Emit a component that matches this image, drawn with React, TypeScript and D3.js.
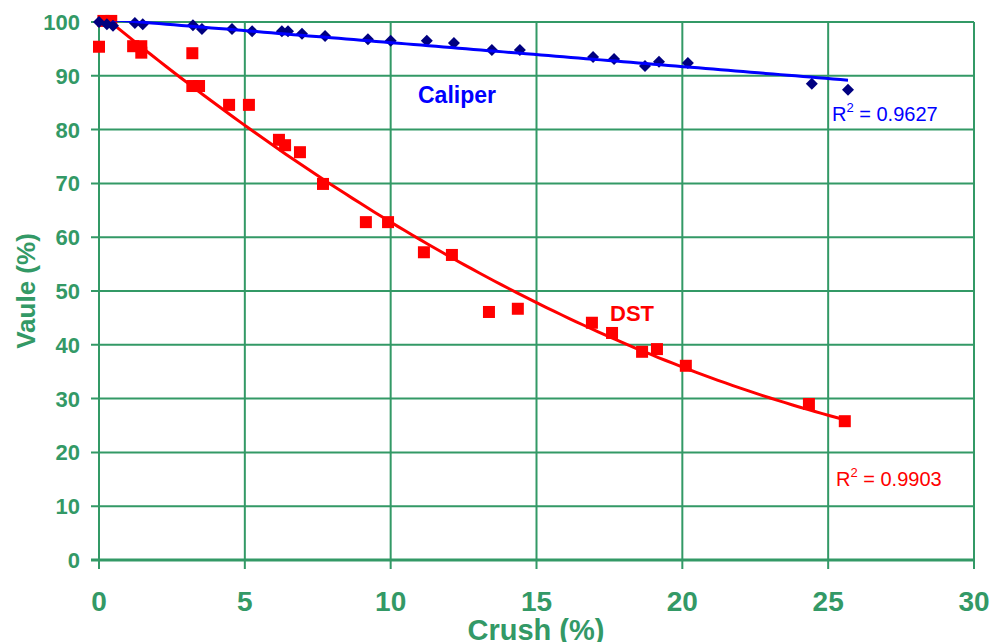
import React, { useEffect, useRef } from 'react';
import * as d3 from 'd3';

// Caliper series (crush %, value %)
const caliperCrush = [0, 0.27, 0.48, 1.23, 1.5, 3.22, 3.53, 4.56, 5.25, 6.27, 6.48, 6.96, 7.75, 9.22, 10.0, 11.24, 12.17, 13.47, 14.43, 16.94, 17.66, 18.72, 19.2, 20.19, 24.44, 25.68];
const caliperValue = [100, 99.6, 99.3, 99.8, 99.6, 99.4, 98.7, 98.7, 98.3, 98.3, 98.3, 97.8, 97.4, 96.8, 96.5, 96.5, 96.1, 94.8, 94.8, 93.5, 93.1, 91.8, 92.6, 92.4, 88.5, 87.4];

// DST series
const dstCrush = [0, 0.15, 0.42, 1.17, 1.45, 1.45, 3.2, 3.2, 3.43, 4.46, 5.14, 6.17, 6.38, 6.89, 7.68, 9.15, 9.91, 11.14, 12.1, 13.37, 14.36, 16.9, 17.59, 18.62, 19.13, 20.12, 24.34, 25.57];
const dstValue = [95.4, 100.2, 100.2, 95.5, 95.5, 94.3, 94.2, 88.1, 88.1, 84.6, 84.6, 78.1, 77.1, 75.8, 69.9, 62.8, 62.8, 57.2, 56.7, 46.1, 46.7, 44.1, 42.2, 38.7, 39.2, 36.1, 29.0, 25.8];

const xTicks = [0, 5, 10, 15, 20, 25, 30];
const yTicks = [0, 10, 20, 30, 40, 50, 60, 70, 80, 90, 100];
const caliperR2 = '0.9627';
const dstR2 = '0.9903';

const green = '#339966';
const sans = '"Liberation Sans", Arial, sans-serif';

// least squares polynomial fit (trend lines)
function polyFit(xs: number[], ys: number[], deg: number): number[] {
  const n = deg + 1;
  const A: number[][] = [];
  for (let i = 0; i < n; i++) {
    A.push([]);
    for (let j = 0; j < n; j++) A[i].push(d3.sum(xs, (x) => Math.pow(x, i + j)));
    A[i].push(d3.sum(xs, (x, k) => Math.pow(x, i) * ys[k]));
  }
  for (let c = 0; c < n; c++) {
    for (let r = c + 1; r < n; r++) {
      const f = A[r][c] / A[c][c];
      for (let k = c; k <= n; k++) A[r][k] -= f * A[c][k];
    }
  }
  const coef = new Array(n).fill(0);
  for (let r = n - 1; r >= 0; r--) {
    let s = A[r][n];
    for (let k = r + 1; k < n; k++) s -= A[r][k] * coef[k];
    coef[r] = s / A[r][r];
  }
  return coef;
}

export default function App() {
  const svgRef = useRef<SVGSVGElement | null>(null);

  useEffect(() => {
    const svg = d3.select(svgRef.current);
    svg.selectAll('*').remove();

    const margin = { top: 22, right: 16, bottom: 82, left: 99 };
    const width = 990;
    const height = 642;

    const x = d3.scaleLinear().domain([0, 30]).range([margin.left, width - margin.right]);
    const y = d3.scaleLinear().domain([0, 100]).range([height - margin.bottom, margin.top]);

    svg.append('rect').attr('width', width).attr('height', height).attr('fill', '#fff');

    // grid + tick marks
    const grid = svg.append('g').attr('stroke', green).attr('stroke-width', 2);
    yTicks.forEach((t) => {
      grid.append('line').attr('x1', x(0) - 8).attr('x2', x(30)).attr('y1', y(t)).attr('y2', y(t))
        .attr('stroke-width', t === 0 ? 3 : 2);
    });
    xTicks.forEach((t) => {
      grid.append('line').attr('x1', x(t)).attr('x2', x(t)).attr('y1', y(100)).attr('y2', y(0) + 9);
    });

    // tick labels
    svg.append('g').selectAll('text').data(yTicks).join('text')
      .attr('x', x(0) - 19).attr('y', (d) => y(d) + 8)
      .attr('text-anchor', 'end').attr('fill', green)
      .attr('font-family', sans).attr('font-weight', 'bold').attr('font-size', 22)
      .text((d) => d);
    svg.append('g').selectAll('text').data(xTicks).join('text')
      .attr('x', (d) => x(d)).attr('y', y(0) + 51)
      .attr('text-anchor', 'middle').attr('fill', green)
      .attr('font-family', sans).attr('font-weight', 'bold').attr('font-size', 28)
      .text((d) => d);

    // axis titles
    svg.append('text').attr('x', 536).attr('y', 640)
      .attr('text-anchor', 'middle').attr('fill', green)
      .attr('font-family', sans).attr('font-weight', 'bold').attr('font-size', 29)
      .text('Crush (%)');
    svg.append('text')
      .attr('transform', `translate(35,${(y(0) + y(100)) / 2}) rotate(-90)`)
      .attr('text-anchor', 'middle').attr('fill', green)
      .attr('font-family', sans).attr('font-weight', 'bold').attr('font-size', 26)
      .text('Vaule (%)');

    // clip for trend lines
    svg.append('clipPath').attr('id', 'plotClip').append('rect')
      .attr('x', x(0)).attr('y', y(100) - 1).attr('width', x(30) - x(0)).attr('height', y(0) - y(100) + 1);

    // trend lines
    const calCoef = polyFit(caliperCrush, caliperValue, 1);
    const dstCoef = polyFit(dstCrush, dstValue, 2);
    const evalPoly = (c: number[], v: number) => c.reduce((s, a, i) => s + a * Math.pow(v, i), 0);
    const line = d3.line<number[]>().x((d) => x(d[0])).y((d) => y(d[1]));

    const calMax = d3.max(caliperCrush) as number;
    const dstMax = d3.max(dstCrush) as number;
    const calPts = d3.range(0, 101).map((i) => [(calMax * i) / 100, evalPoly(calCoef, (calMax * i) / 100)]);
    const dstPts = d3.range(0, 101).map((i) => [(dstMax * i) / 100, evalPoly(dstCoef, (dstMax * i) / 100)]);

    // squares (DST)
    svg.append('g').selectAll('rect').data(dstCrush).join('rect')
      .attr('x', (d) => x(d) - 6).attr('y', (_, i) => y(dstValue[i]) - 6)
      .attr('width', 12).attr('height', 12).attr('fill', '#ff0000');

    svg.append('path').datum(dstPts).attr('clip-path', 'url(#plotClip)')
      .attr('fill', 'none').attr('stroke', '#ff0000').attr('stroke-width', 3).attr('d', line);

    // diamonds (Caliper)
    const diamond = d3.symbol().type(d3.symbolSquare).size(72);
    svg.append('g').selectAll('path').data(caliperCrush).join('path')
      .attr('transform', (d, i) => `translate(${x(d)},${y(caliperValue[i])}) rotate(45)`)
      .attr('d', diamond).attr('fill', '#000080');

    svg.append('path').datum(calPts).attr('clip-path', 'url(#plotClip)')
      .attr('fill', 'none').attr('stroke', '#0000ff').attr('stroke-width', 3).attr('d', line);

    // labels
    svg.append('text').attr('x', 457).attr('y', 103).attr('text-anchor', 'middle')
      .attr('fill', '#0000ff').attr('font-family', sans).attr('font-weight', 'bold').attr('font-size', 23)
      .text('Caliper');
    svg.append('text').attr('x', 632).attr('y', 321).attr('text-anchor', 'middle')
      .attr('fill', '#ff0000').attr('font-family', sans).attr('font-weight', 'bold').attr('font-size', 22)
      .text('DST');

    const r2 = (tx: number, ty: number, color: string, val: string) => {
      const t = svg.append('text').attr('x', tx).attr('y', ty).attr('fill', color)
        .attr('font-family', sans).attr('font-size', 20);
      t.append('tspan').text('R');
      t.append('tspan').attr('dy', -9).attr('font-size', 13).text('2');
      t.append('tspan').attr('dy', 9).text(` = ${val}`);
    };
    r2(832, 121, '#0000ff', caliperR2);
    r2(836, 486, '#ff0000', dstR2);
  }, []);

  return (
    <svg ref={svgRef} width={990} height={642} style={{ position: 'absolute', left: 0, top: 0 }} />
  );
}
